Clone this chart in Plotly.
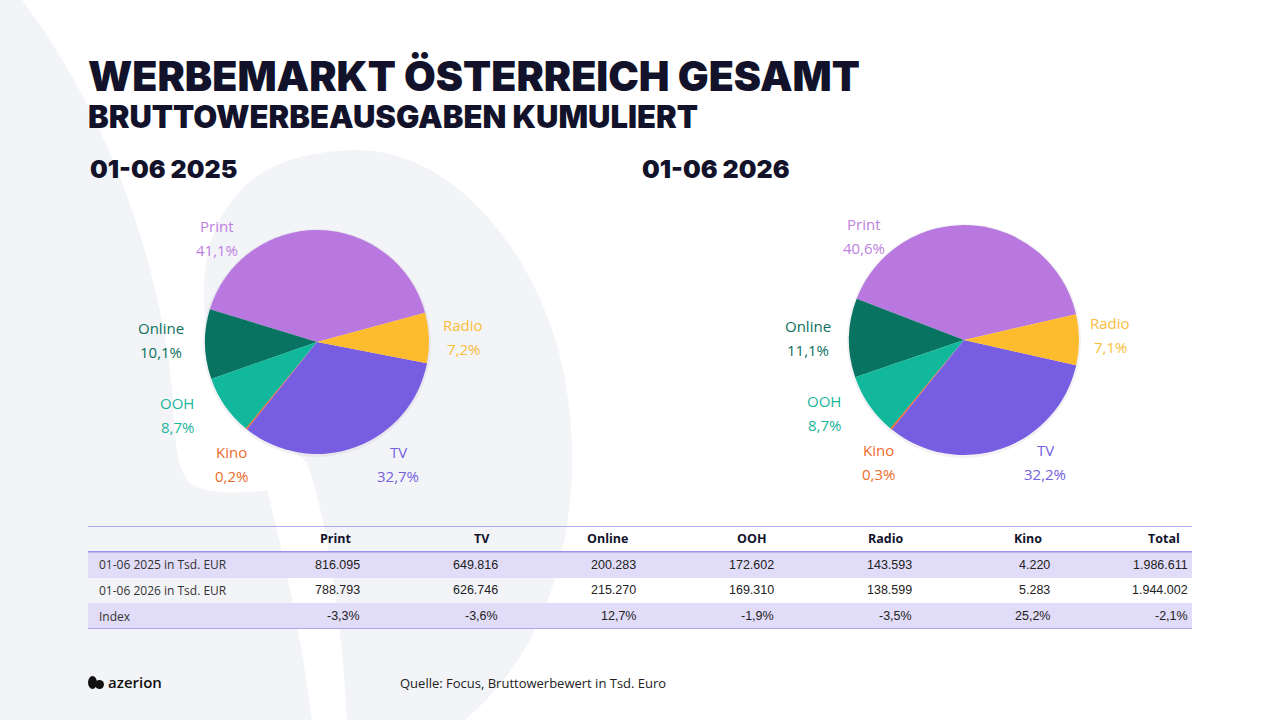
import plotly.graph_objects as go

W, H = 1280, 720

# --- data (Focus, Bruttowerbewert in Tsd. Euro) ---
categories = ["Print", "TV", "Online", "OOH", "Radio", "Kino"]
values_2025 = [816095, 649816, 200283, 172602, 143593, 4220]
values_2026 = [788793, 626746, 215270, 169310, 138599, 5283]
total_2025 = 1986611
total_2026 = 1944002
index_pct = [-3.3, -3.6, 12.7, -1.9, -3.5, 25.2, -2.1]
row_labels = ["01-06 2025 in Tsd. EUR", "01-06 2026 in Tsd. EUR", "Index"]
# order of slices, counterclockwise from the Print/Online edge
pie_order = ["Print", "Online", "OOH", "Kino", "TV", "Radio"]

slice_colors = {"Print": "#B977E0", "TV": "#765DE2", "Online": "#077360",
                "OOH": "#12B89C", "Radio": "#FDBB2E", "Kino": "#F0662A"}
label_colors = {"Print": "#BC82E0", "TV": "#7460DC", "Online": "#0E6F60",
                "OOH": "#1AB59B", "Radio": "#F8BD3C", "Kino": "#EE6A2C"}

NAVY = "#12132B"
TEXT = "#222222"
ROW_FILL = "#E1DCF7"
RULE = "#9D90E8"


def px(x):
    return x / W


def py(y):
    return 1 - y / H


def path(cmds):
    out = []
    for c, pts in cmds:
        out.append(c + " " + " ".join(f"{px(x):.4f},{py(y):.4f}" for x, y in pts))
    return " ".join(out) + " Z"


def de_num(v):
    return f"{v:,}".replace(",", ".")


def de_pct(v):
    return f"{v:.1f}".replace(".", ",") + "%"


fig = go.Figure()
annotations = []
shapes = []

# background decoration
bg = "#F3F4F7"
shapes.append(dict(type="path", xref="paper", yref="paper", layer="below",
                   fillcolor=bg, line=dict(width=0),
                   path=path([("M", [(0, 0)]), ("L", [(22, 0)]),
                              ("C", [(90, 90), (150, 220), (170, 370)]),
                              ("C", [(176, 420), (172, 465), (190, 483)]),
                              ("C", [(205, 495), (245, 494), (267, 490)]),
                              ("C", [(285, 560), (302, 640), (312, 720)]),
                              ("L", [(0, 720)])])))
shapes.append(dict(type="path", xref="paper", yref="paper", layer="below",
                   fillcolor=bg, line=dict(width=0),
                   path=path([("M", [(233, 200)]),
                              ("C", [(255, 168), (300, 150), (360, 150)]),
                              ("C", [(460, 152), (545, 265), (565, 380)]),
                              ("C", [(580, 460), (570, 540), (548, 600)]),
                              ("C", [(530, 650), (500, 690), (465, 720)]),
                              ("L", [(347, 720)]),
                              ("C", [(342, 630), (330, 530), (307, 462)]),
                              ("C", [(280, 440), (215, 390), (205, 320)]),
                              ("C", [(200, 265), (212, 225), (233, 200)])])))

# --- pies ---
pies = [
    dict(values=values_2025, cx=317, cy=342, r=112, rot=-73, title="01-06 2025", tx=88),
    dict(values=values_2026, cx=964, cy=340, r=115, rot=-69, title="01-06 2026", tx=640),
]
label_offsets = {"Print": (-100, -104), "Radio": (146, -5), "TV": (81, 122),
                 "Kino": (-86, 122), "OOH": (-140, 73), "Online": (-156, -2)}

for p in pies:
    vals = dict(zip(categories, p["values"]))
    ordered = [vals[c] for c in pie_order]
    s = sum(ordered)
    cx, cy, r = p["cx"], p["cy"], p["r"]
    # soft shadow
    shapes.append(dict(type="circle", xref="paper", yref="paper", layer="below",
                       x0=px(cx - r - 2), x1=px(cx + r + 2), y0=py(cy + r + 3), y1=py(cy - r - 1),
                       fillcolor="rgba(90,90,130,0.08)", line=dict(width=0)))
    fig.add_trace(go.Pie(
        labels=pie_order, values=ordered, sort=False, direction="counterclockwise",
        rotation=p["rot"], textinfo="none", showlegend=False,
        marker=dict(colors=[slice_colors[c] for c in pie_order], line=dict(width=0)),
        domain=dict(x=[px(cx - r), px(cx + r)], y=[py(cy + r), py(cy - r)]),
        hovertemplate="%{label}: %{value:,}<extra></extra>",
    ))
    for c, v in zip(pie_order, ordered):
        dx, dy = label_offsets[c]
        for txt, sh in ((c, -12), (de_pct(v / s * 100), 12)):
            annotations.append(dict(x=px(cx + dx), y=py(cy + dy + sh), xref="paper", yref="paper",
                                    text=txt, showarrow=False, xanchor="center", yanchor="middle",
                                    font=dict(family="Open Sans", size=15, color=label_colors[c])))
    annotations.append(dict(x=px(p["tx"]), y=py(169), xref="paper", yref="paper",
                            text=p["title"], showarrow=False, xanchor="left", yanchor="middle",
                            font=dict(family="Inter", size=25, color=NAVY, weight=900)))

# titles
annotations.append(dict(x=px(86), y=py(76), xref="paper", yref="paper",
                        text="WERBEMARKT ÖSTERREICH GESAMT", showarrow=False,
                        xanchor="left", yanchor="middle",
                        font=dict(family="Inter", size=41, color=NAVY, weight=900)))
annotations.append(dict(x=px(86), y=py(117), xref="paper", yref="paper",
                        text="BRUTTOWERBEAUSGABEN KUMULIERT", showarrow=False,
                        xanchor="left", yanchor="middle",
                        font=dict(family="Inter", size=31, color=NAVY, weight=900)))

# --- table: 8 equal columns on a hidden axis, row 0 = header ---
col_names = [""] + categories + ["Total"]
body = [[de_num(v) for v in values_2025] + [de_num(total_2025)],
        [de_num(v) for v in values_2026] + [de_num(total_2026)],
        [de_pct(v) for v in index_pct]]
n_cols = len(col_names)

fig.add_trace(go.Heatmap(
    z=[[None] * n_cols, [1] * n_cols, [None] * n_cols, [1] * n_cols],
    x=list(range(n_cols)), y=[0, 1, 2, 3], zmin=0, zmax=1,
    colorscale=[[0, ROW_FILL], [1, ROW_FILL]], showscale=False, hoverinfo="skip",
    xaxis="x", yaxis="y",
))

for ci, name in enumerate(col_names[1:], start=1):
    annotations.append(dict(x=ci + 0.5, y=0, xref="x", yref="y", text="<b>" + name + "</b>",
                            showarrow=False, xanchor="right", yanchor="middle", xshift=-10,
                            font=dict(family="Open Sans", size=12.5, color=NAVY)))
for ri, (lab, row) in enumerate(zip(row_labels, body), start=1):
    annotations.append(dict(x=-0.5, y=ri, xref="x", yref="y", text=lab, showarrow=False,
                            xanchor="left", yanchor="middle", xshift=9,
                            font=dict(family="Open Sans", size=12, color="#333333")))
    for ci, val in enumerate(row, start=1):
        annotations.append(dict(x=ci + 0.5, y=ri, xref="x", yref="y", text=val, showarrow=False,
                                xanchor="right", yanchor="middle", xshift=-2,
                                font=dict(family="Liberation Sans", size=12.5, color=TEXT)))

for yl in (-0.5, 0.5, 3.5):
    shapes.append(dict(type="line", xref="x", yref="y", layer="above",
                       x0=-0.5, x1=n_cols - 0.5, y0=yl, y1=yl,
                       line=dict(color=RULE, width=1.5)))

# --- footer ---
shapes.append(dict(type="circle", xref="paper", yref="paper", layer="above",
                   x0=px(88), x1=px(97), y0=py(689), y1=py(676),
                   fillcolor="#111111", line=dict(width=0)))
shapes.append(dict(type="circle", xref="paper", yref="paper", layer="above",
                   x0=px(95), x1=px(104), y0=py(689), y1=py(680),
                   fillcolor="#111111", line=dict(width=0)))
annotations.append(dict(x=px(106), y=py(682), xref="paper", yref="paper", text="azerion",
                        showarrow=False, xanchor="left", yanchor="middle",
                        font=dict(family="Open Sans", size=15, color="#111111", weight=600)))
annotations.append(dict(x=px(398), y=py(683), xref="paper", yref="paper",
                        text="Quelle: Focus, Bruttowerbewert in Tsd. Euro",
                        showarrow=False, xanchor="left", yanchor="middle",
                        font=dict(family="Open Sans", size=13, color=TEXT)))

fig.update_layout(
    width=W, height=H, margin=dict(l=0, r=0, t=0, b=0),
    paper_bgcolor="#FFFFFF", plot_bgcolor="rgba(0,0,0,0)",
    separators=",.",
    xaxis=dict(domain=[px(88), px(1192)], range=[-0.5, n_cols - 0.5], visible=False,
               fixedrange=True),
    yaxis=dict(domain=[py(629), py(526)], range=[3.5, -0.5], visible=False,
               fixedrange=True),
    shapes=shapes, annotations=annotations,
)

fig.write_html("out.html", config={"displayModeBar": False},
               post_script="document.body.style.margin='0px';")
